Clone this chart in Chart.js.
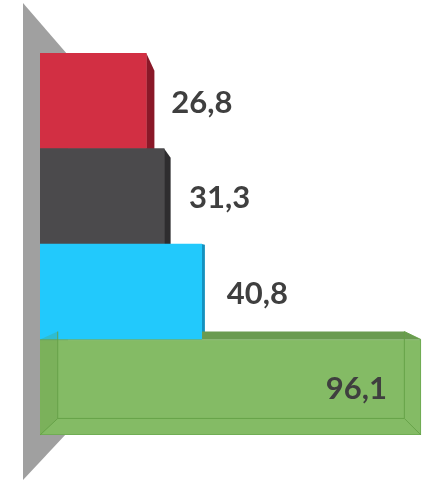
<!DOCTYPE html>
<html>
<head>
<meta charset="utf-8">
<script src="https://cdn.jsdelivr.net/npm/chart.js@4"></script>
<style>
  html, body { margin: 0; padding: 0; background: #ffffff; }
  #wrap { width: 434px; height: 482px; }
</style>
</head>
<body>
<div id="wrap"><canvas id="chart"></canvas></div>
<script>
const categories = ['Serie 1', 'Serie 2', 'Serie 3', 'Serie 4'];
const values = [26.8, 31.3, 40.8, 96.1];
const axisMax = 99.4;

const frontColors = ['#d22f43', '#4b4a4c', '#22c9fc', '#84bb65'];
const sideColors = ['#8a1828', '#2e2d2f', '#1591be', '#6a9b50'];

const DEPTH = 0.09;

function vanish(chart) {
  const a = chart.chartArea;
  return { x: (a.left + a.right) / 2, y: (a.top + a.bottom) / 2 + 7 };
}
function toBack(p, v, k) {
  return { x: p.x + (v.x - p.x) * k, y: p.y + (v.y - p.y) * k };
}
function poly(ctx, pts, fill) {
  ctx.beginPath();
  ctx.moveTo(pts[0].x, pts[0].y);
  for (let i = 1; i < pts.length; i++) ctx.lineTo(pts[i].x, pts[i].y);
  ctx.closePath();
  ctx.fillStyle = fill;
  ctx.fill();
}
function corners(bar) {
  const p = bar.getProps(['x', 'y', 'base', 'height'], true);
  const t = p.y - p.height / 2, b = p.y + p.height / 2;
  return {
    tl: { x: p.base, y: t }, tr: { x: p.x, y: t },
    br: { x: p.x, y: b }, bl: { x: p.base, y: b }, cy: p.y, right: p.x
  };
}

const box3d = {
  id: 'box3d',
  beforeDatasetsDraw(chart) {
    const ctx = chart.ctx;
    const a = chart.chartArea;
    const v = vanish(chart);
    ctx.save();
    // side wall
    const wf1 = { x: a.left - 17, y: a.top - 50 };
    const wf2 = { x: a.left - 17, y: a.bottom + 45 };
    poly(ctx, [wf1, toBack(wf1, v, 0.21), toBack(wf2, v, 0.21), wf2], '#a0a0a0');
    // hidden faces of every bar
    chart.getDatasetMeta(0).data.forEach((bar, i) => {
      const c = corners(bar);
      const B = k => toBack(c[k], v, DEPTH);
      if (c.right < v.x) poly(ctx, [c.tr, B('tr'), B('br'), c.br], sideColors[i]);
      if (c.tl.y > v.y) poly(ctx, [c.tl, B('tl'), B('tr'), c.tr], sideColors[i]);
      if (c.bl.y < v.y) poly(ctx, [c.bl, B('bl'), B('br'), c.br], sideColors[i]);
    });
    ctx.restore();
  },
  afterDatasetsDraw(chart) {
    const ctx = chart.ctx;
    const v = vanish(chart);
    const meta = chart.getDatasetMeta(0);
    ctx.save();
    // the long bar is a see-through box: show its back edges
    const last = meta.data.length - 1;
    const c = corners(meta.data[last]);
    const B = k => toBack(c[k], v, DEPTH);
    poly(ctx, [c.tl, B('tl'), B('bl'), c.bl], 'rgba(90,140,60,0.22)');
    ctx.strokeStyle = 'rgba(100,160,70,0.9)';
    ctx.lineWidth = 1;
    ctx.beginPath();
    ctx.moveTo(B('tl').x, B('tl').y);
    ctx.lineTo(B('bl').x, B('bl').y);
    ctx.lineTo(B('br').x, B('br').y);
    ctx.lineTo(B('tr').x, B('tr').y);
    ['bl', 'br', 'tr'].forEach(k => {
      ctx.moveTo(c[k].x, c[k].y);
      ctx.lineTo(B(k).x, B(k).y);
    });
    ctx.stroke();

    // value labels
    ctx.font = 'bold 31px Lato';
    ctx.fillStyle = '#3f3f3f';
    ctx.textBaseline = 'middle';
    meta.data.forEach((bar, i) => {
      const cc = corners(bar);
      const txt = values[i].toFixed(1).replace('.', ',');
      if (i === last) {
        ctx.textAlign = 'right';
        ctx.fillText(txt, cc.right - 34, cc.cy + 2);
      } else {
        ctx.textAlign = 'left';
        ctx.fillText(txt, cc.right + 25, cc.cy + 2);
      }
    });
    ctx.restore();
  }
};

new Chart(document.getElementById('chart'), {
  type: 'bar',
  data: {
    labels: categories,
    datasets: [{
      data: values,
      backgroundColor: frontColors,
      borderColor: ['#d22f43', '#4b4a4c', '#22c9fc', '#6aa84f'],
      borderWidth: [0, 0, 0, 1],
      barPercentage: 1,
      categoryPercentage: 1
    }]
  },
  options: {
    indexAxis: 'y',
    responsive: true,
    maintainAspectRatio: false,
    animation: false,
    layout: { padding: { top: 53, left: 40, bottom: 47, right: 0 } },
    plugins: { legend: { display: false }, tooltip: { enabled: false } },
    scales: {
      x: { display: false, min: 0, max: axisMax },
      y: { display: false }
    }
  },
  plugins: [box3d]
});
</script>
</body>
</html>
